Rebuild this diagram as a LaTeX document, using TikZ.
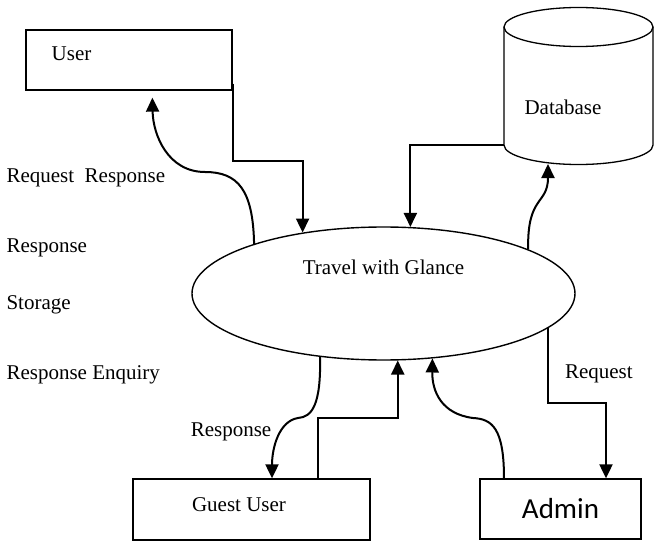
\documentclass[tikz,border=0pt]{standalone}
\usepackage{fontspec}
\setmainfont{Liberation Serif}
\newfontfamily\adminfont{Carlito}
\usepackage{tikz}
\usetikzlibrary{calc}
\usetikzlibrary{arrows.meta}
\usetikzlibrary{shapes.geometric}
\tikzset{>={Triangle[length=14pt,width=13pt]}}
\tikzset{
  txt/.style={font=\fontsize{21}{25}\selectfont},
  entity/.style={draw,line width=1.3pt,rectangle,inner sep=0pt},
  flow/.style={->,line width=2pt}
}

\begin{document}
\begin{tikzpicture}[x=1pt,y=-1pt]
\useasboundingbox (0,0) rectangle (654,543);
% external entities
\node[entity,minimum width=206,minimum height=60,
  label={[txt,xshift=-57.5pt,yshift=6pt]center:User}] (user) at (129,60) {};
\node[entity,minimum width=237,minimum height=61,
  label={[txt,xshift=-12.5pt,yshift=4.5pt]center:Guest User}] (guest) at (251.5,509.5) {};
\node[entity,minimum width=161,minimum height=60,font=\adminfont\fontsize{29}{34}\selectfont] (admin) at (560.5,509) {Admin};
% data store
\draw[line width=1.3pt] (578.5,27) ellipse[x radius=74.5,y radius=19.5];
\draw[line width=1.3pt] (504,27) -- (504,145)
  arc[start angle=180,end angle=0,x radius=74.5,y radius=19.5] -- (653,27);
\node[txt] (db) at (563,107) {Database};
\coordinate (dbside) at (504,145);
\coordinate (dbfoot) at (548,164);
% process
\node[draw,line width=1.4pt,ellipse,minimum width=383,minimum height=133,inner sep=0pt,
  label={[txt,yshift=26.5pt]center:Travel with Glance}] (tw) at (383.5,293.5) {};

% flows
\draw[flow] ([yshift=7pt]user.south east) -- ++(0,77) -| (tw.143);
\draw[flow] (tw.159) .. controls (253,190) and (238,172) .. (205,172)
  .. controls (168,172) and (153,135) .. ($(user.south west)+(127,7)$);
\draw[flow] (dbside) -| (tw.68);
\draw[flow] (tw.17) .. controls (527,195) and (548,205) .. (dbfoot);
\draw[flow] (tw.348) -- ++(0,75)
  node[txt,pos=0.6,anchor=west,xshift=13pt] (req) {Request}
  -| ([xshift=45.5pt]admin.north);
\draw[flow] ([xshift=-56.5pt]admin.north) .. controls (504,428) and (492,419) .. (473,418)
  .. controls (442,414) and (432,392) .. (tw.307);
\draw[flow] ([xshift=66.5pt]guest.north) -- ++(0,-60) -| (tw.282);
\draw[flow] (tw.225) .. controls (321,405) and (312,417) .. (298,418)
  .. controls (279,421) and (272,448) .. ([xshift=20.5pt]guest.north);
\node[txt] (resp) at (231,432) {Response};

% flow names
\node[txt,anchor=west] (l1) at (3,178) {Request~~Response};
\node[txt,anchor=west] (l2) at (3,248) {Response};
\node[txt,anchor=west] (l3) at (3,305) {Storage};
\node[txt,anchor=west] (l4) at (3,375) {Response Enquiry};
\end{tikzpicture}
\end{document}
